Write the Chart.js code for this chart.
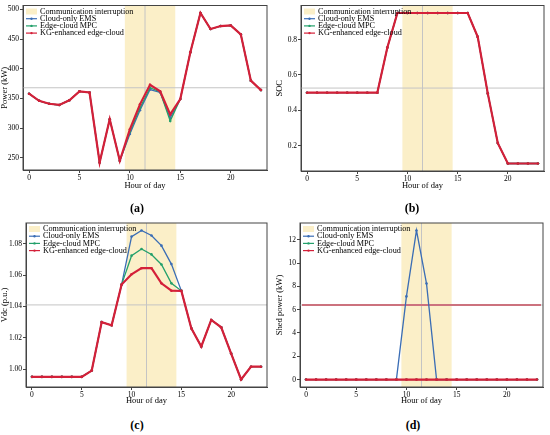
<!DOCTYPE html>
<html>
<head>
<meta charset="utf-8">
<script src="https://cdn.jsdelivr.net/npm/chart.js@4.4.0/dist/chart.umd.min.js"></script>
<style>
  body { margin: 0; background: #fff; width: 550px; height: 435px; position: relative; overflow: hidden; font-family: "Liberation Serif", serif; }
  .panel { position: absolute; }
  .cap { position: absolute; font-weight: bold; font-size: 12px; transform: translate(-50%, -50%); color: #000; }
</style>
</head>
<body>
<div class="panel" style="left:0;top:0"><canvas id="chartA" width="272" height="192"></canvas></div>
<div class="panel" style="left:275px;top:0"><canvas id="chartB" width="275" height="192"></canvas></div>
<div class="panel" style="left:0;top:215px"><canvas id="chartC" width="272" height="192"></canvas></div>
<div class="panel" style="left:275px;top:215px"><canvas id="chartD" width="275" height="192"></canvas></div>
<div class="cap" style="left:137px;top:208px">(a)</div>
<div class="cap" style="left:412px;top:208px">(b)</div>
<div class="cap" style="left:137px;top:425px">(c)</div>
<div class="cap" style="left:413px;top:425px">(d)</div>
<script>
const hours = [0, 1, 2, 3, 4, 5, 6, 7, 8, 9, 10, 11, 12, 13, 14, 15, 16, 17, 18, 19, 20, 21, 22, 23];
const xTicks = [0, 5, 10, 15, 20];
const seriesNames = ['Cloud-only EMS', 'Edge-cloud MPC', 'KG-enhanced edge-cloud'];
const bandLabel = 'Communication interruption';
const interruptStart = 9.5;
const interruptEnd = 14.5;
const markerHour = 11.5;

// (a) power
const powerCloud = [358, 346, 341, 339, 347, 362, 360, 242, 315, 245, 290, 330, 365, 360, 317, 349, 428, 494, 467, 472, 473, 458, 380, 364];
const powerEdge  = [358, 346, 341, 339, 347, 362, 360, 242, 315, 245, 294, 334, 368, 361, 312, 349, 428, 494, 467, 472, 473, 458, 380, 364];
const powerKG    = [358, 346, 341, 339, 347, 362, 360, 242, 315, 245, 298, 340, 373, 362, 323, 349, 428, 494, 467, 472, 473, 458, 380, 364];
const powerTicks = [250, 300, 350, 400, 450, 500];
const powerRef = 368;

// (b) SOC
const socCloud = [0.5, 0.5, 0.5, 0.5, 0.5, 0.5, 0.5, 0.5, 0.755, 0.95, 0.95, 0.95, 0.95, 0.95, 0.95, 0.95, 0.95, 0.815, 0.496, 0.215, 0.1, 0.1, 0.1, 0.1];
const socEdge  = [0.5, 0.5, 0.5, 0.5, 0.5, 0.5, 0.5, 0.5, 0.755, 0.95, 0.95, 0.95, 0.95, 0.95, 0.95, 0.95, 0.95, 0.815, 0.496, 0.215, 0.1, 0.1, 0.1, 0.1];
const socKG    = [0.5, 0.5, 0.5, 0.5, 0.5, 0.5, 0.5, 0.5, 0.755, 0.95, 0.95, 0.95, 0.95, 0.95, 0.95, 0.95, 0.95, 0.815, 0.496, 0.215, 0.1, 0.1, 0.1, 0.1];
const socTicks = [0.2, 0.4, 0.6, 0.8];
const socRef = 0.526;

// (c) DC bus voltage
const vdcCloud = [0.995, 0.995, 0.995, 0.995, 0.995, 0.995, 0.999, 1.030, 1.028, 1.054, 1.0847, 1.0886, 1.0854, 1.0789, 1.0671, 1.050, 1.026, 1.0144, 1.0314, 1.0267, 1.0099, 0.9933, 1.0015, 1.0015];
const vdcEdge  = [0.995, 0.995, 0.995, 0.995, 0.995, 0.995, 0.999, 1.030, 1.028, 1.054, 1.0725, 1.0768, 1.0733, 1.0669, 1.0548, 1.050, 1.026, 1.0144, 1.0314, 1.0267, 1.0099, 0.9933, 1.0015, 1.0015];
const vdcKG    = [0.995, 0.995, 0.995, 0.995, 0.995, 0.995, 0.999, 1.030, 1.028, 1.054, 1.0606, 1.0645, 1.0645, 1.0548, 1.0501, 1.050, 1.026, 1.0144, 1.0314, 1.0267, 1.0099, 0.9933, 1.0015, 1.0015];
const vdcTicks = [1.00, 1.02, 1.04, 1.06, 1.08];
const vdcRef = 1.041;

// (d) shed power
const shedCloud = [0, 0, 0, 0, 0, 0, 0, 0, 0, 0, 7.14, 12.8, 8.24, 0, 0, 0, 0, 0, 0, 0, 0, 0, 0, 0];
const shedEdge  = [0, 0, 0, 0, 0, 0, 0, 0, 0, 0, 0, 0, 0, 0, 0, 0, 0, 0, 0, 0, 0, 0, 0, 0];
const shedKG    = [0, 0, 0, 0, 0, 0, 0, 0, 0, 0, 0, 0, 0, 0, 0, 0, 0, 0, 0, 0, 0, 0, 0, 0];
const shedTicks = [0, 2, 4, 6, 8, 10, 12];
const shedRef = 6.4;

const colors = ['#3a6db5', '#23a06b', '#d42039'];
const widths = [1.3, 1.3, 2.2];
const bandColor = 'rgba(250, 236, 190, 0.85)';
const axisColor = '#444';
const serif = '"Liberation Serif", serif';

Chart.defaults.font.family = serif;
Chart.defaults.color = '#000';

// interruption band, reference lines, frame, legend inside the axes
const decorations = {
  id: 'decorations',
  beforeDatasetsDraw(chart, args, opts) {
    const { ctx, chartArea: a, scales: { x, y } } = chart;
    ctx.save();
    ctx.fillStyle = bandColor;
    const x0 = x.getPixelForValue(interruptStart), x1 = x.getPixelForValue(interruptEnd);
    ctx.fillRect(x0, a.top, x1 - x0, a.bottom - a.top);
    ctx.strokeStyle = '#c4c4c4';
    ctx.lineWidth = 1;
    const xm = x.getPixelForValue(markerHour);
    ctx.beginPath(); ctx.moveTo(xm, a.top); ctx.lineTo(xm, a.bottom); ctx.stroke();
    if (opts.redRef) {
      const yr = y.getPixelForValue(opts.ref);
      ctx.strokeStyle = colors[2];
      ctx.lineWidth = 2;
      ctx.beginPath(); ctx.moveTo(a.left + 2, yr); ctx.lineTo(a.right - 2, yr); ctx.stroke();
    }
    const yh = y.getPixelForValue(opts.ref);
    ctx.strokeStyle = '#c4c4c4';
    ctx.lineWidth = 1;
    ctx.beginPath(); ctx.moveTo(a.left, yh); ctx.lineTo(a.right, yh); ctx.stroke();
    ctx.restore();
  },
  afterDraw(chart) {
    const { ctx, chartArea: a } = chart;
    ctx.save();
    ctx.strokeStyle = axisColor;
    ctx.lineWidth = 1;
    ctx.strokeRect(a.left, a.top, a.right - a.left, a.bottom - a.top);
    // legend
    ctx.font = '8.2px ' + serif;
    ctx.textBaseline = 'middle';
    let yy = a.top + 6;
    ctx.fillStyle = bandColor;
    ctx.fillRect(a.left + 3, yy - 3, 11, 6);
    ctx.fillStyle = '#000';
    ctx.fillText(bandLabel, a.left + 17, yy);
    chart.data.datasets.forEach((ds) => {
      yy += 7.2;
      ctx.strokeStyle = ds.borderColor;
      ctx.lineWidth = 1.2;
      ctx.beginPath(); ctx.moveTo(a.left + 3, yy); ctx.lineTo(a.left + 14, yy); ctx.stroke();
      ctx.fillStyle = ds.borderColor;
      ctx.beginPath(); ctx.arc(a.left + 8.5, yy, 1.2, 0, Math.PI * 2); ctx.fill();
      ctx.fillStyle = '#000';
      ctx.fillText(ds.label, a.left + 17, yy);
    });
    ctx.restore();
  }
};

function makePanel(id, series, yTicks, yDigits, yMin, yMax, yTitle, ref, box) {
  return new Chart(document.getElementById(id), {
    type: 'line',
    data: {
      datasets: series.map((vals, i) => ({
        label: seriesNames[i],
        data: hours.map((h, k) => ({ x: h, y: vals[k] })),
        borderColor: colors[i],
        backgroundColor: colors[i],
        borderWidth: widths[i],
        pointRadius: 1.3,
        pointHoverRadius: 1.3,
        pointBorderWidth: 0,
        tension: 0,
        order: series.length - i,
      }))
    },
    options: {
      responsive: false,
      animation: false,
      events: [],
      layout: { padding: { top: box.top, right: box.right, left: 0, bottom: 0 } },
      plugins: {
        legend: { display: false },
        tooltip: { enabled: false },
        decorations: { ref: ref, redRef: box.redRef || false },
      },
      scales: {
        x: {
          type: 'linear',
          min: -0.6,
          max: 23.6,
          afterBuildTicks: (s) => { s.ticks = xTicks.map((v) => ({ value: v })); },
          afterFit: (s) => { s.height = box.xh; },
          ticks: { font: { size: 7.5 }, padding: 1, maxRotation: 0 },
          grid: { drawOnChartArea: false, tickLength: 3, color: axisColor },
          border: { color: axisColor },
          title: { display: true, text: 'Hour of day', font: { size: 8.5 }, padding: { top: 0, bottom: 1 } },
        },
        y: {
          min: yMin,
          max: yMax,
          afterBuildTicks: (s) => { s.ticks = yTicks.map((v) => ({ value: v })); },
          afterFit: (s) => { s.width = box.yw; },
          ticks: { font: { size: 7.5 }, padding: 1, callback: (v) => v.toFixed(yDigits) },
          grid: { drawOnChartArea: false, tickLength: 3, color: axisColor },
          border: { color: axisColor },
          title: { display: true, text: yTitle, font: { size: 8.5 }, padding: { top: 0, bottom: 1 } },
        },
      },
    },
    plugins: [decorations],
  });
}

makePanel('chartA', [powerCloud, powerEdge, powerKG], powerTicks, 0, 229.4, 506.6, 'Power (kW)', powerRef,
  { top: 3, right: 5, xh: 22, yw: 23 });
makePanel('chartB', [socCloud, socEdge, socKG], socTicks, 1, 0.0575, 0.9925, 'SOC', socRef,
  { top: 3, right: 6, xh: 21, yw: 26 });
makePanel('chartC', [vdcCloud, vdcEdge, vdcKG], vdcTicks, 2, 0.9885, 1.0934, 'Vdc (p.u.)', vdcRef,
  { top: 8, right: 5, xh: 20, yw: 26 });
makePanel('chartD', [shedCloud, shedEdge, shedKG], shedTicks, 0, -0.64, 13.44, 'Shed power (kW)', shedRef,
  { top: 8, right: 7, xh: 20, yw: 25, redRef: true });
</script>
</body>
</html>
